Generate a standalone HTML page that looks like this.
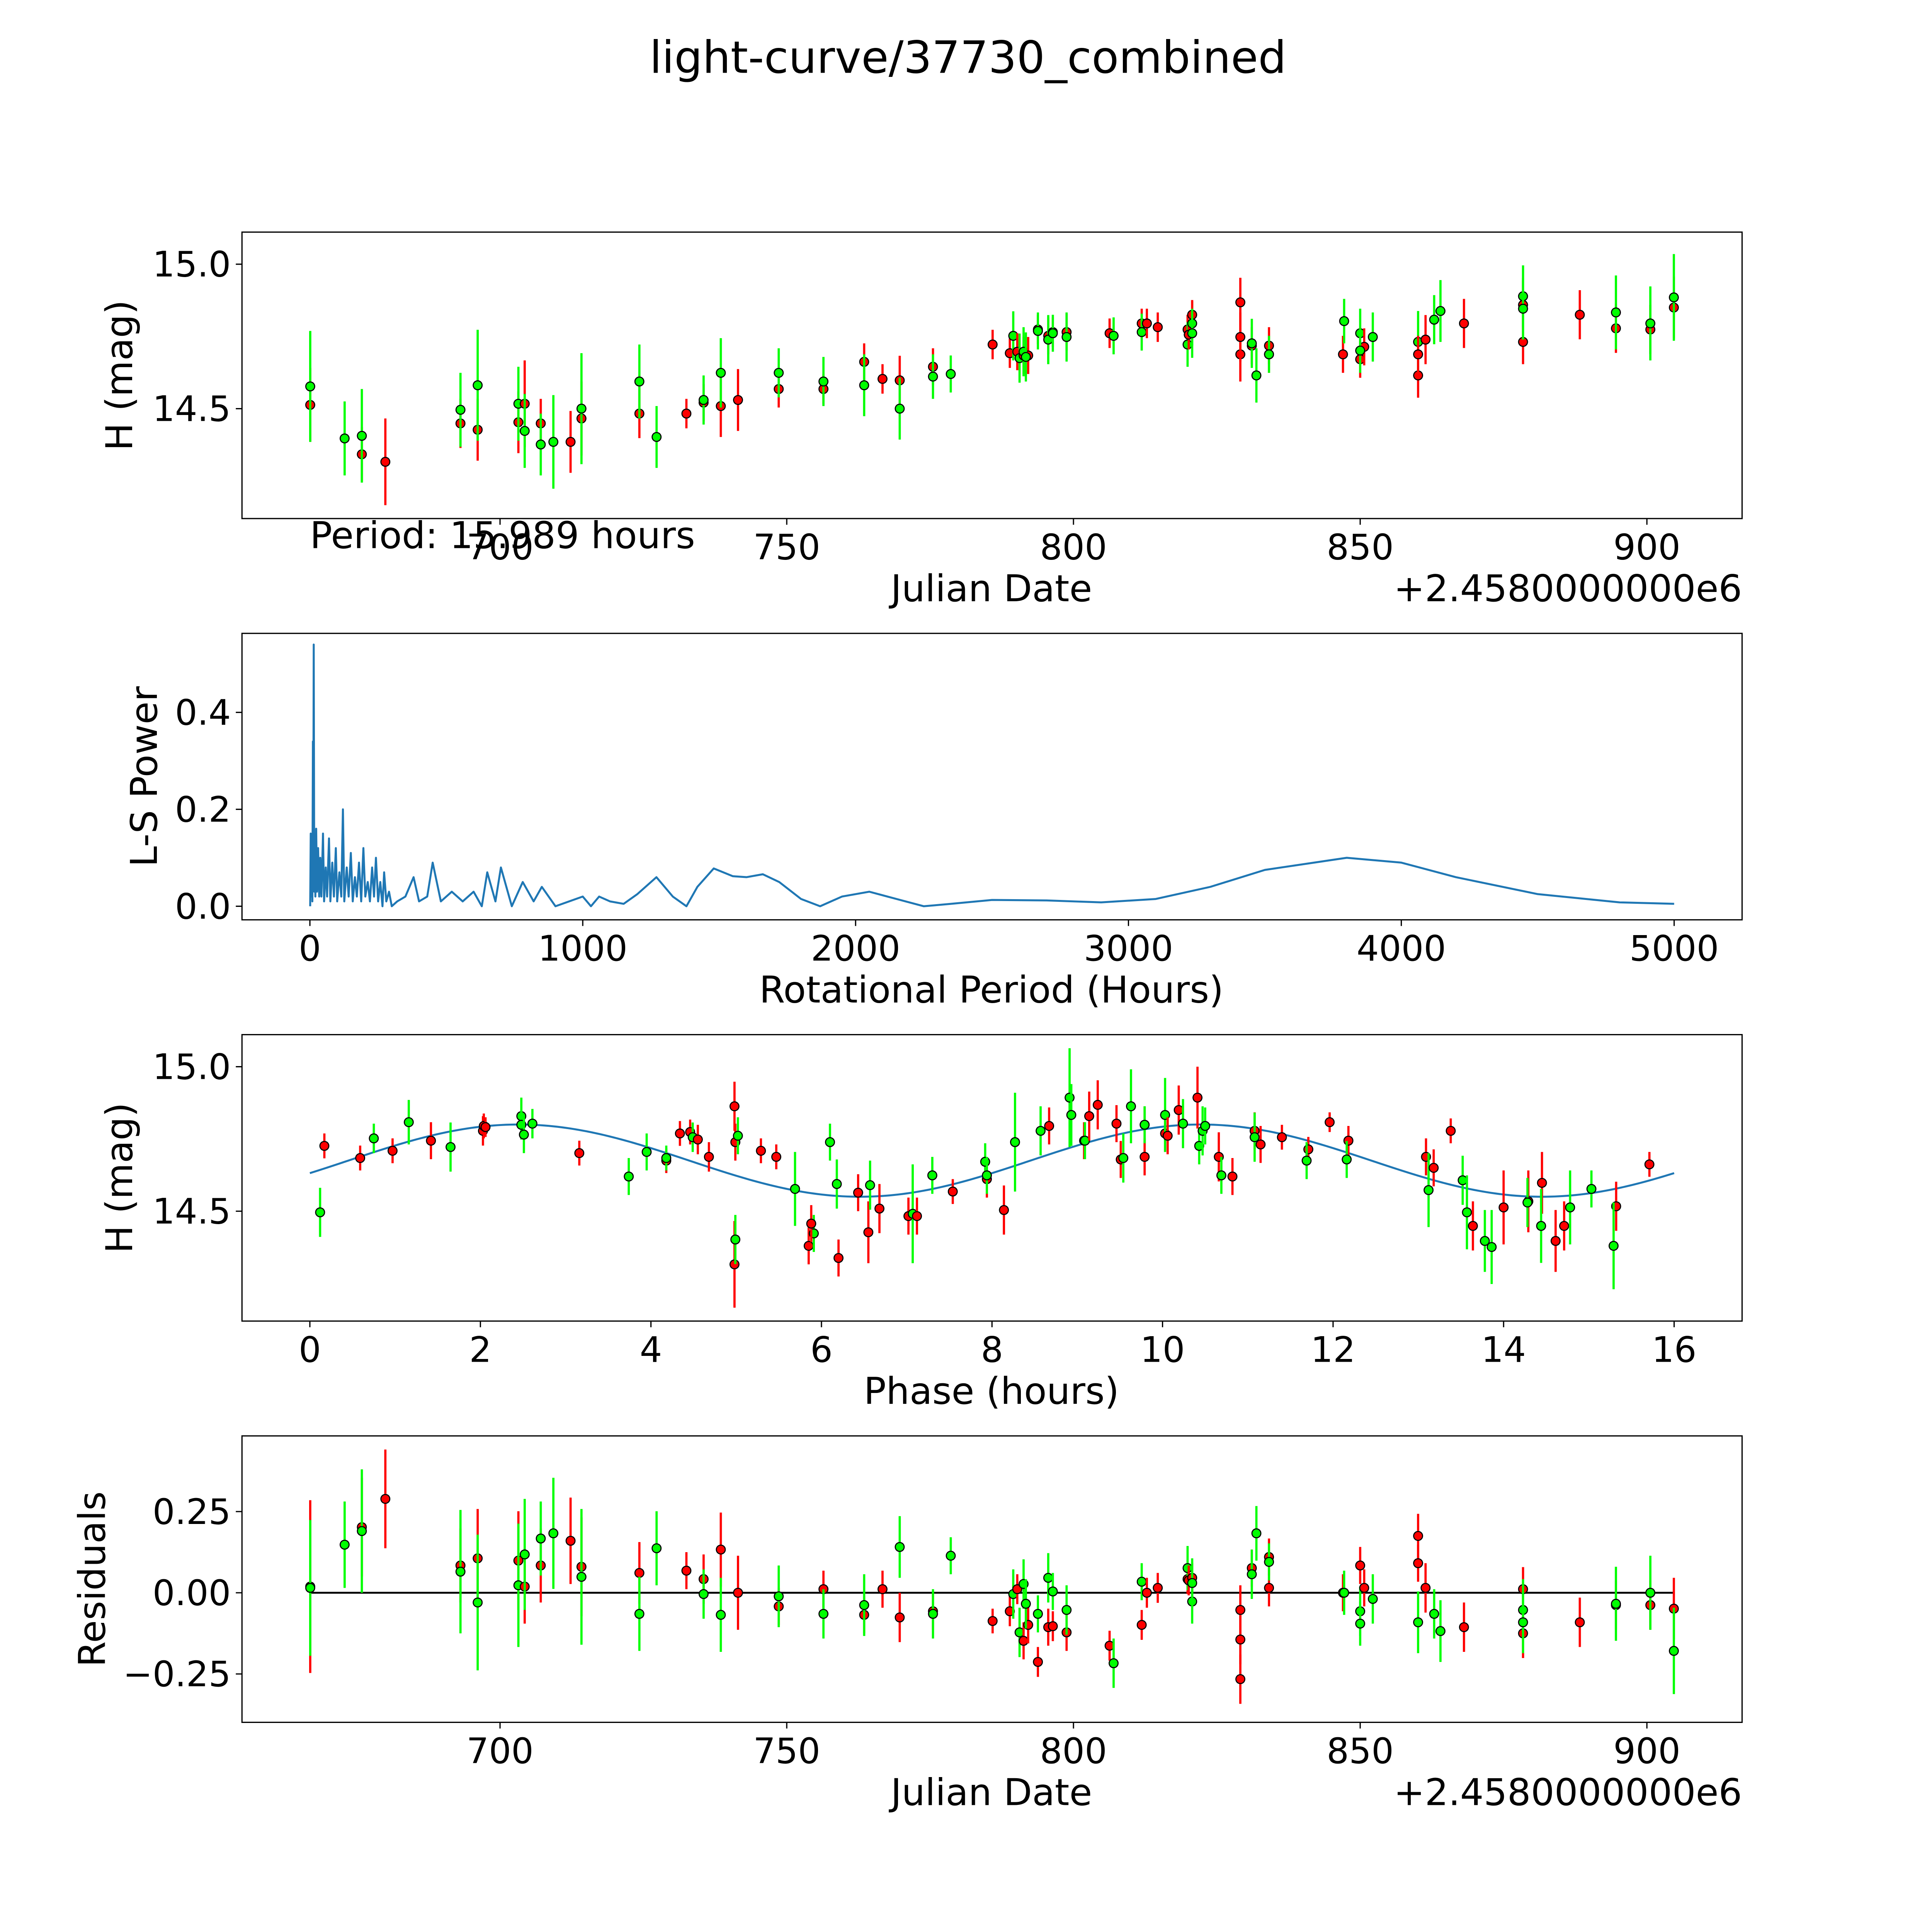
<!DOCTYPE html>
<html><head><meta charset="utf-8"><style>
html,body{margin:0;padding:0;background:#fff;width:5400px;height:5400px;overflow:hidden;}
svg{display:block;font-family:"DejaVu Sans","Liberation Sans",sans-serif;}
</style></head>
<body>
<svg id="chart" xmlns="http://www.w3.org/2000/svg" width="5400" height="5400" viewBox="0 0 1690 1690">
<rect x="0" y="0" width="1690" height="1690" fill="#fff"/>
<text x="784" y="59" font-size="36" text-anchor="middle">light-curve/37730_combined</text>
</svg>
<script>
// ---- Light curve data (Julian date offset from 2458000, band, magnitude, error, residual, residual error)
const lcJd=[666.9,666.9,672.9,675.9,675.9,680.0,693.1,693.1,696.1,696.1,703.2,703.2,704.3,704.3,707.1,707.1,709.3,712.3,714.2,714.2,724.3,724.3,727.3,732.5,735.5,735.5,738.5,738.5,741.5,748.6,748.6,756.4,756.4,763.5,763.5,766.7,769.7,769.7,775.5,775.5,778.6,785.9,788.9,789.5,790.2,790.6,791.3,791.3,792.1,791.7,793.8,793.8,795.6,795.6,796.4,796.4,798.8,798.8,806.3,807.0,811.9,811.9,812.8,814.7,819.9,819.9,820.1,820.7,820.7,820.7,829.1,829.1,829.1,831.1,831.1,831.9,834.1,834.1,834.1,847.0,847.2,850.0,850.0,850.7,850.0,852.2,860.1,860.1,860.1,861.4,862.9,864.0,868.1,878.4,878.4,878.4,878.4,888.3,894.6,894.6,900.6,900.6,904.7,904.7];
const lcBand=["r","g","g","r","g","r","r","g","r","g","r","g","r","g","r","g","g","r","r","g","r","g","g","r","r","g","r","g","r","r","g","r","g","r","g","r","r","g","r","g","g","r","r","g","r","g","r","g","r","g","r","g","r","g","r","g","r","g","r","g","r","g","r","r","r","g","r","g","r","g","r","r","r","r","g","g","r","r","g","r","g","r","g","r","g","g","r","g","r","r","g","g","r","r","g","r","g","r","r","g","r","g","r","g"];
const lcMag=[14.513,14.577,14.397,14.342,14.406,14.316,14.449,14.496,14.427,14.581,14.453,14.517,14.517,14.423,14.449,14.376,14.385,14.385,14.466,14.500,14.483,14.594,14.402,14.483,14.521,14.530,14.509,14.624,14.530,14.568,14.624,14.568,14.594,14.662,14.581,14.603,14.598,14.500,14.645,14.611,14.620,14.722,14.692,14.752,14.697,14.675,14.684,14.697,14.684,14.679,14.774,14.769,14.752,14.739,14.765,14.761,14.765,14.748,14.761,14.752,14.795,14.765,14.795,14.782,14.774,14.722,14.756,14.795,14.825,14.761,14.868,14.688,14.748,14.718,14.726,14.615,14.718,14.688,14.688,14.688,14.803,14.671,14.761,14.714,14.701,14.748,14.615,14.731,14.688,14.739,14.808,14.838,14.795,14.731,14.889,14.859,14.846,14.825,14.778,14.833,14.774,14.795,14.850,14.885];
const lcErr=[0.128,0.192,0.128,0.094,0.162,0.150,0.085,0.128,0.107,0.192,0.107,0.128,0.150,0.128,0.085,0.107,0.162,0.107,0.128,0.192,0.085,0.128,0.107,0.051,0.064,0.085,0.107,0.120,0.107,0.064,0.085,0.051,0.085,0.064,0.107,0.051,0.085,0.107,0.064,0.077,0.064,0.051,0.051,0.085,0.064,0.085,0.064,0.085,0.064,0.085,0.051,0.064,0.064,0.085,0.051,0.064,0.064,0.085,0.051,0.064,0.051,0.064,0.051,0.051,0.051,0.077,0.051,0.077,0.051,0.085,0.085,0.094,0.085,0.064,0.085,0.094,0.064,0.064,0.064,0.064,0.077,0.064,0.085,0.064,0.077,0.085,0.077,0.107,0.064,0.085,0.085,0.107,0.085,0.077,0.107,0.085,0.107,0.085,0.085,0.128,0.085,0.128,0.107,0.150];
const lcRes=[0.019,0.015,0.148,0.202,0.190,0.289,0.084,0.065,0.106,-0.030,0.099,0.023,0.019,0.118,0.084,0.167,0.183,0.160,0.080,0.049,0.061,-0.065,0.137,0.068,0.042,-0.004,0.133,-0.068,0.000,-0.042,-0.011,0.011,-0.065,-0.068,-0.038,0.011,-0.076,0.141,-0.057,-0.065,0.114,-0.087,-0.057,-0.004,0.011,-0.122,-0.148,0.027,-0.099,-0.034,-0.213,-0.065,-0.106,0.046,-0.103,0.004,-0.122,-0.053,-0.163,-0.217,-0.099,0.034,0.000,0.015,0.042,0.076,0.038,-0.027,0.046,0.030,-0.266,-0.053,-0.144,0.076,0.057,0.183,0.110,0.015,0.095,0.000,0.000,0.084,-0.057,0.015,-0.095,-0.019,0.175,-0.091,0.091,0.015,-0.065,-0.118,-0.106,0.011,-0.053,-0.125,-0.091,-0.091,-0.038,-0.034,-0.038,0.000,-0.049,-0.179];
const lcResErr=[0.266,0.209,0.133,0.152,0.190,0.152,0.114,0.190,0.152,0.209,0.152,0.190,0.114,0.171,0.114,0.114,0.171,0.133,0.152,0.209,0.095,0.114,0.114,0.057,0.076,0.076,0.114,0.114,0.114,0.057,0.095,0.057,0.076,0.057,0.095,0.057,0.076,0.095,0.057,0.076,0.057,0.038,0.046,0.076,0.046,0.076,0.057,0.076,0.057,0.076,0.046,0.057,0.057,0.076,0.046,0.057,0.057,0.076,0.046,0.076,0.046,0.057,0.046,0.046,0.046,0.068,0.046,0.068,0.046,0.076,0.076,0.076,0.076,0.057,0.076,0.084,0.057,0.057,0.057,0.057,0.068,0.057,0.076,0.057,0.068,0.076,0.068,0.095,0.057,0.076,0.076,0.095,0.076,0.068,0.095,0.076,0.095,0.076,0.076,0.114,0.076,0.114,0.095,0.133];

// ---- Phase-folded data
const phPhase=[0.17,0.12,0.59,0.97,0.75,1.16,1.42,1.65,2.03,2.04,2.06,2.48,2.48,2.51,2.61,3.16,3.74,3.95,4.18,4.18,4.34,4.46,4.49,4.55,4.68,4.98,4.99,5.02,4.98,4.99,5.29,5.47,5.69,5.85,5.91,5.88,6.10,6.18,6.20,6.43,6.55,6.57,6.68,7.02,7.07,7.12,7.30,7.54,7.92,7.94,7.94,8.14,8.27,8.57,8.67,8.91,8.93,9.08,9.09,9.14,9.24,9.46,9.51,9.54,9.63,9.79,9.79,9.79,10.03,10.03,10.06,10.19,10.24,10.41,10.43,10.47,10.50,10.66,10.69,10.82,11.08,11.08,11.15,11.40,11.71,11.69,11.96,12.18,12.16,13.09,13.12,13.18,13.38,13.52,13.57,13.64,13.78,13.86,14.00,14.29,14.28,14.45,14.44,14.61,14.71,14.78,15.03,15.32,15.29,15.71];
const phBand=["r","g","r","r","g","g","r","g","r","r","r","g","g","g","g","r","g","g","r","g","r","r","g","r","r","r","r","g","r","g","r","r","g","r","g","r","g","g","r","r","r","g","r","r","g","r","g","r","g","r","g","r","g","g","r","g","g","r","g","r","r","r","r","g","g","r","r","g","r","g","r","r","g","r","g","g","g","r","g","r","r","g","r","r","r","g","r","r","g","r","g","r","r","g","g","r","g","g","r","r","g","r","g","r","r","g","g","r","g","r"];
const phMag=[14.726,14.496,14.684,14.709,14.752,14.808,14.744,14.722,14.778,14.795,14.791,14.829,14.799,14.765,14.803,14.701,14.620,14.705,14.675,14.684,14.769,14.774,14.756,14.748,14.688,14.863,14.739,14.761,14.316,14.402,14.709,14.688,14.577,14.380,14.423,14.457,14.739,14.594,14.338,14.564,14.427,14.590,14.509,14.483,14.491,14.483,14.624,14.568,14.671,14.611,14.624,14.504,14.739,14.778,14.795,14.893,14.833,14.744,14.744,14.829,14.868,14.803,14.679,14.684,14.863,14.688,14.799,14.799,14.769,14.833,14.761,14.850,14.803,14.893,14.726,14.778,14.795,14.688,14.624,14.620,14.778,14.756,14.731,14.756,14.714,14.675,14.808,14.744,14.679,14.688,14.573,14.650,14.778,14.607,14.496,14.449,14.397,14.376,14.513,14.534,14.530,14.598,14.449,14.397,14.449,14.513,14.577,14.517,14.380,14.662];
const phErr=[0.043,0.085,0.043,0.043,0.051,0.077,0.064,0.085,0.051,0.043,0.034,0.064,0.051,0.064,0.051,0.043,0.064,0.064,0.043,0.043,0.043,0.043,0.051,0.051,0.051,0.085,0.064,0.064,0.150,0.085,0.043,0.043,0.128,0.064,0.064,0.064,0.064,0.085,0.064,0.064,0.107,0.085,0.085,0.064,0.171,0.064,0.064,0.043,0.064,0.064,0.064,0.085,0.171,0.085,0.064,0.171,0.107,0.064,0.064,0.085,0.085,0.064,0.064,0.085,0.128,0.064,0.064,0.064,0.064,0.128,0.064,0.085,0.085,0.107,0.064,0.085,0.064,0.085,0.064,0.064,0.064,0.085,0.064,0.043,0.043,0.064,0.034,0.051,0.064,0.064,0.128,0.064,0.043,0.085,0.128,0.085,0.107,0.128,0.128,0.107,0.085,0.107,0.128,0.107,0.085,0.128,0.064,0.085,0.150,0.043];
// sinusoidal fit parameters: [mean mag, amplitude, half-period (hours), phase offset]
const fitParams=[14.675,0.125,8.0,0.45];

// ---- Lomb-Scargle periodogram
const lsPeriod=[1,3,4,5,6,8,9,11,12,14,16,18,20,23,26,30,34,38,42,48,52,58,63,70,75,82,88,95,100,108,115,121,126,135,142,150,157,165,172,180,188,196,203,212,220,228,235,242,250,258,266,272,280,290,300,320,350,380,400,430,450,480,520,560,600,630,650,680,700,740,780,820,850,900,950,1000,1030,1060,1100,1150,1200,1270,1330,1380,1420,1480,1550,1600,1660,1720,1800,1870,1950,2050,2150,2250,2350,2500,2700,2900,3100,3300,3500,3800,4000,4200,4500,4800,5000];
const lsPower=[0.0,0.15,0.02,0.14,0.03,0.10,0.01,0.34,0.05,0.54,0.03,0.12,0.02,0.16,0.03,0.12,0.02,0.10,0.02,0.15,0.01,0.08,0.02,0.14,0.01,0.09,0.02,0.12,0.01,0.07,0.02,0.20,0.01,0.08,0.02,0.11,0.01,0.06,0.02,0.09,0.01,0.12,0.02,0.05,0.01,0.08,0.02,0.10,0.01,0.05,0.0,0.07,0.01,0.03,0.0,0.01,0.02,0.06,0.01,0.02,0.09,0.01,0.03,0.01,0.03,0.0,0.07,0.01,0.08,0.0,0.05,0.01,0.04,0.0,0.01,0.02,0.0,0.02,0.01,0.005,0.025,0.06,0.02,0.0,0.04,0.078,0.062,0.06,0.066,0.05,0.015,0.0,0.02,0.03,0.015,0.0,0.005,0.013,0.012,0.008,0.015,0.04,0.075,0.1,0.09,0.06,0.025,0.008,0.005];

// ---- Tick labels
const jdTicks=[700,750,800,850,900];
const magTicks=[14.5,15.0];
const magTickLabels=["14.5","15.0"];
const lsXTicks=[0,1000,2000,3000,4000,5000];
const lsYTicks=[0.0,0.2,0.4];
const lsYTickLabels=["0.0","0.2","0.4"];
const phTicks=[0,2,4,6,8,10,12,14,16];
const resTicks=[-0.25,0,0.25];
const resTickLabels=["\u22120.25","0.00","0.25"];

const NS="http://www.w3.org/2000/svg";
const svg=document.getElementById('chart');
function mk(tag,attrs,parent){const e=document.createElementNS(NS,tag);for(const k in attrs)e.setAttribute(k,attrs[k]);(parent||svg).appendChild(e);return e;}
function scale(d0,d1,p0,p1){return v=>p0+(v-d0)*(p1-p0)/(d1-d0);}
const COL={r:"#ff0000",g:"#00ff00"};
const TICK_FS=28.5, LABEL_FS=30;

function panel(name,x0,x1,y0,y1,xd,yd){
  const g=mk('g',{});
  
  
  return {g,x0,x1,y0,y1,sx:scale(xd[0],xd[1],x0,x1),sy:scale(yd[0],yd[1],y1,y0)};
}
function frame(P){
  const r=mk('rect',{x:P.x0,y:P.y0,width:P.x1-P.x0,height:P.y1-P.y0,fill:'none',stroke:'#000','stroke-width':1},P.g);
  
  
}
function xticks(P,vals,labels){
  vals.forEach((v,i)=>{const x=P.sx(v);
    mk('line',{x1:x,x2:x,y1:P.y1,y2:P.y1+5,stroke:'#000','stroke-width':1},P.g);
    const t=mk('text',{x:x,y:P.y1+33,'font-size':TICK_FS,'text-anchor':'middle'},P.g);t.textContent=labels?labels[i]:String(v);
    
    });
}
function yticks(P,vals,labels){
  vals.forEach((v,i)=>{const y=P.sy(v);
    mk('line',{x1:P.x0-5,x2:P.x0,y1:y,y2:y,stroke:'#000','stroke-width':1},P.g);
    const t=mk('text',{x:P.x0-9,y:y+10,'font-size':TICK_FS,'text-anchor':'end'},P.g);t.textContent=labels[i];
    
    });
}
function label(P,txt,x,y,rot,nm){
  const t=mk('text',{x:x,y:y,'font-size':LABEL_FS,'text-anchor':'middle'},P.g);
  if(rot)t.setAttribute('transform','rotate(-90 '+x+' '+y+')');
  t.textContent=txt;
  
  
  return t;
}
function points(P,xs,ys,es,bands,nm){
  const gg=mk('g',{},P.g);
  
  
  xs.forEach((xv,i)=>{
    const x=P.sx(xv),y=P.sy(ys[i]),c=COL[bands[i]];
    mk('line',{x1:x,x2:x,y1:P.sy(ys[i]-es[i]),y2:P.sy(ys[i]+es[i]),stroke:c,'stroke-width':1.8},gg);
    const m=mk('circle',{cx:x,cy:y,r:3.6,fill:c,stroke:'#000','stroke-width':0.9},gg);
    
    
  });
}

// Panel 1: light curve
const P1=panel('light-curve-panel',196,1411,188,420,[655.0,916.6],[14.1197,15.111]);
frame(P1);
xticks(P1,jdTicks);
yticks(P1,magTicks,magTickLabels);
points(P1,lcJd,lcMag,lcErr,lcBand,'light-curve-points');
label(P1,'H (mag)',107,304,true,'y-axis-title-mag');
label(P1,'Julian Date',803,487,false,'x-axis-title-julian-date');
(function(){const t=mk('text',{x:1411,y:487,'font-size':LABEL_FS,'text-anchor':'end'},P1.g);t.textContent='+2.4580000000e6';


const p=mk('text',{x:251,y:444,'font-size':LABEL_FS},P1.g);p.textContent='Period: 15.989 hours';

})();

// Panel 2: periodogram
const P2=panel('periodogram-panel',196,1411,513,745,[-248.9,5249],[-0.028,0.563]);
frame(P2);
xticks(P2,lsXTicks);
yticks(P2,lsYTicks,lsYTickLabels);
(function(){let d='';lsPeriod.forEach((p,i)=>{d+=(i?'L':'M')+P2.sx(p).toFixed(2)+' '+P2.sy(lsPower[i]).toFixed(2);});
const l=mk('path',{d:d,fill:'none',stroke:'#1f77b4','stroke-width':1.6,'stroke-linejoin':'round'},P2.g);

})();
label(P2,'L-S Power',127,629,true,'y-axis-title-ls-power');
label(P2,'Rotational Period (Hours)',803,812,false,'x-axis-title-period');

// Panel 3: phase folded
const P3=panel('phase-panel',196,1411,838,1070,[-0.796,16.797],[14.1197,15.111]);
frame(P3);
xticks(P3,phTicks);
yticks(P3,magTicks,magTickLabels);
(function(){let d='';for(let i=0;i<=320;i++){const p=16*i/320;const m=fitParams[0]+fitParams[1]*Math.sin(2*Math.PI*(p-fitParams[3])/fitParams[2]);
d+=(i?'L':'M')+P3.sx(p).toFixed(2)+' '+P3.sy(m).toFixed(2);}
const l=mk('path',{d:d,fill:'none',stroke:'#1f77b4','stroke-width':1.6},P3.g);

})();
points(P3,phPhase,phMag,phErr,phBand,'phase-points');
label(P3,'H (mag)',107,954,true,'y-axis-title-mag-phase');
label(P3,'Phase (hours)',803,1137,false,'x-axis-title-phase');

// Panel 4: residuals
const P4=panel('residuals-panel',196,1411,1163,1395,[655.0,916.6],[-0.399,0.483]);
frame(P4);
xticks(P4,jdTicks);
yticks(P4,resTicks,resTickLabels);
(function(){const l=mk('line',{x1:P4.sx(lcJd[0]),x2:P4.sx(lcJd[lcJd.length-1]),y1:P4.sy(0),y2:P4.sy(0),stroke:'#000','stroke-width':1.5},P4.g);

})();
points(P4,lcJd,lcRes,lcResErr,lcBand,'residual-points');
label(P4,'Residuals',85,1279,true,'y-axis-title-residuals');
label(P4,'Julian Date',803,1462,false,'x-axis-title-julian-date-residuals');
(function(){const t=mk('text',{x:1411,y:1462,'font-size':LABEL_FS,'text-anchor':'end'},P4.g);t.textContent='+2.4580000000e6';

})();
</script>
</body></html>
